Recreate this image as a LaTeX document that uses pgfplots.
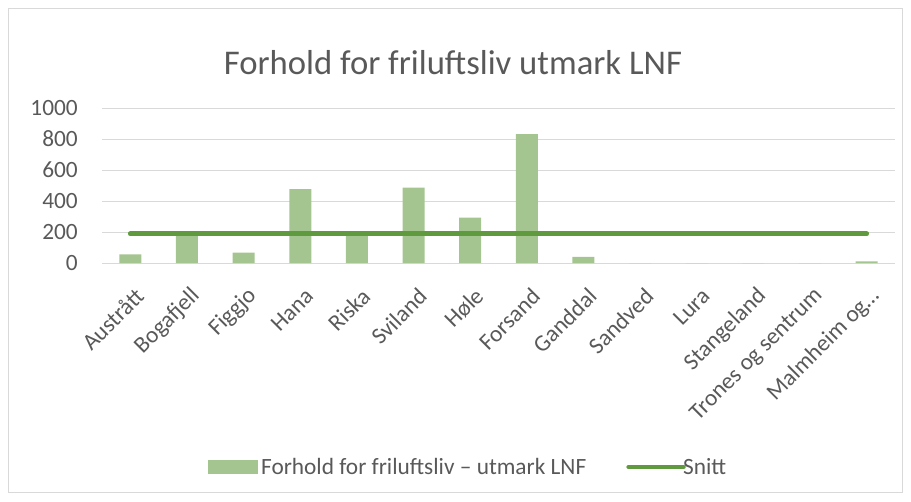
\documentclass[border=0pt]{standalone}
\usepackage{pgfplots}
\pgfplotsset{compat=1.18}
\usepackage{fontspec}
\setmainfont{Carlito}
\definecolor{txt}{HTML}{595959}
\definecolor{barc}{HTML}{A4C58F}
\definecolor{linec}{HTML}{5F9A3E}
\definecolor{gridc}{HTML}{D9D9D9}
\begin{document}
\begin{tikzpicture}
% 1 px of the reference = 0.75pt
\useasboundingbox (0pt,0pt) rectangle (683.25pt,375.75pt);
\draw[gridc, line width=0.75pt] (6.4pt,6.4pt) rectangle (676.9pt,369.4pt);
\node[text=txt, font=\fontsize{26}{31}\selectfont] at (339.75pt,328.5pt) {Forhold for friluftsliv utmark LNF};
\begin{axis}[
    at={(76.5pt,178.5pt)}, anchor=south west,
    scale only axis,
    width=594.75pt, height=116.25pt,
    xmin=-0.5, xmax=13.5,
    ymin=0, ymax=1000,
    ytick={0,200,400,600,800,1000},
    xtick={0,...,13},
    xticklabels={Austrått,Bogafjell,Figgjo,Hana,Riska,Sviland,Høle,Forsand,Ganddal,Sandved,Lura,Stangeland,Trones og sentrum,Malmheim og…},
    axis line style={draw=none},
    tick style={draw=none},
    ymajorgrids,
    grid style={gridc, line width=0.75pt},
    /pgf/number format/assume math mode=true,
    /pgf/number format/1000 sep={},
    ticklabel style={text=txt, font=\fontsize{17.5}{20}\selectfont},
    yticklabel style={inner xsep=0pt, xshift=-18pt},
    xticklabel style={anchor=east, inner sep=0pt, xshift=7pt, yshift=-22pt, rotate=45},
    legend columns=2,
    legend style={draw=none, fill=none, at={(0.462,-1.316)}, anchor=center,
      font=\fontsize{17.5}{20}\selectfont, text=txt,
      /tikz/every even column/.append style={column sep=28pt}},
  ]
  \addplot[ybar, bar width=16.5pt, fill=barc, draw=none,
    legend image code/.code={\fill[barc] (0pt,-4.9pt) rectangle (38pt,4.9pt);}]
  coordinates {
    (0,56) (1,190) (2,67) (3,477) (4,185) (5,486) (6,292)
    (7,832) (8,39) (9,0) (10,0) (11,0) (12,0) (13,11)
  };
  \addlegendentry{Forhold for friluftsliv – utmark LNF}
  \addplot[linec, line width=3.6pt, line cap=round, sharp plot,
    legend image code/.code={\draw[linec, line width=3.6pt, line cap=round] (0pt,0pt) -- (41pt,0pt);}]
  coordinates {
    (0,188) (1,188) (2,188) (3,188) (4,188) (5,188) (6,188)
    (7,188) (8,188) (9,188) (10,188) (11,188) (12,188) (13,188)
  };
  \addlegendentry{\hspace{-4pt}Snitt}
\end{axis}
\end{tikzpicture}
\end{document}
